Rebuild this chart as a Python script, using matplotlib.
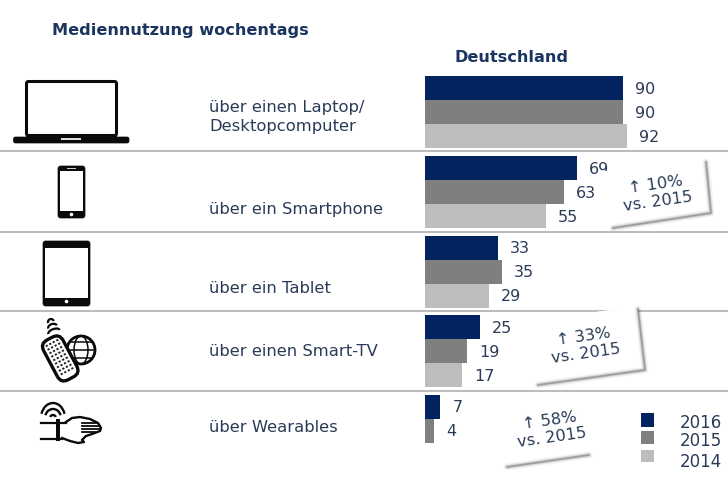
#!/usr/bin/env python3
import numpy as np
import matplotlib
matplotlib.use('Agg')
import matplotlib.pyplot as plt
from matplotlib.patches import Rectangle, FancyBboxPatch, Circle, Ellipse, Arc, Polygon
from matplotlib.transforms import Affine2D

# Data
categories = ['über einen Laptop/\nDesktopcomputer', 'über ein Smartphone', 'über ein Tablet',
              'über einen Smart-TV', 'über Wearables']
years = ['2016', '2015', '2014']
values_2016 = [90, 69, 33, 25, 7]
values_2015 = [90, 63, 35, 19, 4]
values_2014 = [92, 55, 29, 17, None]
note_labels = ['↑ 10%\nvs. 2015', '↑ 33%\nvs. 2015', '↑ 58%\nvs. 2015']

# Colors
NAVY = '#032360'
MID = '#7f7f7f'
LIGHT = '#bdbdbd'
TEXT = '#2a3b58'
TITLE = '#1c3560'
RULE = '#bcbcbc'
BLACK = '#0a0a0a'

W, H = 728, 486
PX = 2.2  # bar pixels per unit
fig = plt.figure(figsize=(W / 100, H / 100), dpi=100, facecolor='white')

# backdrop axes in pixel coordinates: rules, icons, text
ax = fig.add_axes([0, 0, 1, 1], zorder=1)
ax.set_xlim(0, W)
ax.set_ylim(H, 0)
ax.axis('off')

# bars axes, x in percent
bx = fig.add_axes([425 / W, 0, (W - 425) / W, 1], zorder=2)
bx.set_xlim(0, (W - 425) / PX)
bx.set_ylim(H, 0)
bx.axis('off')
bx.patch.set_alpha(0)

# overlay for the notes, they sit over the bars' labels
nx = fig.add_axes([0, 0, 1, 1], zorder=3)
nx.set_xlim(0, W)
nx.set_ylim(H, 0)
nx.axis('off')
nx.patch.set_alpha(0)

row_centers = [112, 192, 271.5, 351, 430.5]
for y in [151.5, 231.5, 311, 390.5]:
    ax.plot([0, W], [y, y], color=RULE, lw=1.5, solid_capstyle='butt')

series = [(values_2016, NAVY, -24), (values_2015, MID, 0), (values_2014, LIGHT, 24)]
for vals, color, offset in series:
    for center, v in zip(row_centers, vals):
        if v is None:
            continue
        bx.barh(center + offset, v, height=24, color=color, linewidth=0)
        bx.text(v + 5.5, center + offset + 1, str(v), color=TEXT, fontsize=11.5,
                va='center', ha='left')

# titles and row labels
ax.text(52, 31, 'Mediennutzung wochentags', color=TITLE, fontsize=11.6, weight='bold', va='center')
ax.text(512, 57, 'Deutschland', color=TITLE, fontsize=11.6, weight='bold', va='center', ha='center')
label_y = [117, 209, 288, 351, 427]
for y, label in zip(label_y, categories):
    ax.text(209, y, label, color=TEXT, fontsize=11.8, va='center', ha='left', linespacing=1.35)

# legend
for y0, h, color, year, ty in zip([413, 431, 450], [14, 13, 12], [NAVY, MID, LIGHT], years, [423, 441, 462]):
    ax.add_patch(Rectangle((641, y0), 13, h, color=color, lw=0))
    ax.text(680, ty, year, color=TEXT, fontsize=12, va='center')


# laptop
ax.add_patch(FancyBboxPatch((26.5, 81.5), 90, 54, boxstyle='round,pad=0,rounding_size=2',
                            fc='white', ec=BLACK, lw=2.2))
ax.add_patch(FancyBboxPatch((13.5, 137), 115.5, 6, boxstyle='round,pad=0,rounding_size=2',
                            fc=BLACK, ec=BLACK, lw=0.5))
ax.add_patch(Rectangle((26, 134), 91, 4, color=BLACK, lw=0))
ax.add_patch(Rectangle((61, 138), 20, 2, color='#dddddd', lw=0))

# phone
ax.add_patch(FancyBboxPatch((58, 166), 27, 52, boxstyle='round,pad=0,rounding_size=2.5',
                            fc=BLACK, ec=BLACK, lw=0.5))
ax.add_patch(Rectangle((60, 171), 23, 40, color='white', lw=0))
ax.add_patch(Circle((71.5, 214.5), 1.8, color='white', lw=0))
ax.add_patch(Rectangle((67, 168), 9, 1, color='#cccccc', lw=0))

# tablet
ax.add_patch(FancyBboxPatch((43, 241), 47, 65, boxstyle='round,pad=0,rounding_size=2.5',
                            fc=BLACK, ec=BLACK, lw=0.5))
ax.add_patch(Rectangle((45, 248), 43, 50, color='white', lw=0))
ax.add_patch(Circle((66.5, 301.5), 1.8, color='white', lw=0))

# remote with globe
ax.add_patch(Circle((81, 350), 14, fc='white', ec=BLACK, lw=2))
for w in [28, 14]:
    ax.add_patch(Ellipse((81, 350), w, 28, fc='none', ec=BLACK, lw=1.1))
for dy in [-8, 0, 8]:
    half = np.sqrt(14 ** 2 - dy ** 2)
    ax.plot([81 - half, 81 + half], [350 + dy, 350 + dy], color=BLACK, lw=1.1)
rot = Affine2D().rotate_deg_around(60, 358, -28) + ax.transData
ax.add_patch(FancyBboxPatch((49, 336), 22, 45, boxstyle='round,pad=0,rounding_size=8',
                            fc='white', ec=BLACK, lw=2.4, transform=rot, zorder=3))
key_x = [54, 58, 62, 66]
key_y = [341, 345, 349, 353, 357, 361, 365, 369, 373]
for kx in key_x:
    for ky in key_y:
        ax.add_patch(Rectangle((kx - 1.1, ky - 1), 2.2, 1.9, color='#222222', lw=0, transform=rot, zorder=4))
for d, w in zip([0, 5, 10], [12, 9, 6]):
    ax.add_patch(Arc((54 - d * 0.3, 332 - d), w, 6, angle=-20, theta1=180, theta2=360,
                     color=BLACK, lw=1.6))

# wearable: hand with wrist band and signal arcs
for w, h in [(24, 30), (16, 18), (6, 6)]:
    ax.add_patch(Arc((53, 418), w, h, theta1=200, theta2=340, color=BLACK, lw=1.7))
ax.plot([41, 66], [422.5, 422.5], color=BLACK, lw=1.6)
ax.plot([41, 62], [438.5, 438.5], color=BLACK, lw=1.6)
ax.add_patch(Rectangle((56, 419), 3.5, 22, color=BLACK, lw=0))
hand_x = [66, 72, 80, 90, 98, 101, 100, 92, 86, 82, 84, 78, 70, 62]
hand_y = [422, 418, 417, 419, 423, 428, 431, 434, 436, 440, 442, 443, 441, 438]
ax.plot(hand_x, hand_y, color=BLACK, lw=1.7)
for y, x1 in zip([423, 426, 429, 432], [96, 100, 100, 95]):
    ax.plot([82, x1], [y, y], color=BLACK, lw=1.3)


# tilted paper notes, white sheet with soft shadow below
notes = [
    ([(599, 172), (705, 160), (710, 213), (613, 228)], (657, 193), note_labels[0], True),
    ([(530, 320), (637, 307), (644, 370), (538, 385)], (585, 345), note_labels[1], True),
    ([(495, 407), (590, 393), (589, 455), (507, 467)], (551, 429), note_labels[2], False),
]
for corners, center, label, right_shadow in notes:
    nx.add_patch(Polygon(corners, closed=True, fc='white', ec='none'))
    tr, br, bl = corners[1], corners[2], corners[3]
    if right_shadow:
        xs = [tr[0] + 1, br[0] + 1, bl[0]]
        ys = [tr[1] + 2, br[1], bl[1]]
    else:
        xs = [br[0], bl[0]]
        ys = [br[1], bl[1]]
    for lw, alpha in [(5, 0.05), (3.5, 0.08), (2.2, 0.14), (1.2, 0.3)]:
        nx.plot(xs, ys, color='#333333', lw=lw, alpha=alpha, solid_capstyle='round', solid_joinstyle='round')
    nx.add_patch(Polygon(corners, closed=True, fc='white', ec='none'))
    nx.text(center[0], center[1], label, color=TEXT, fontsize=11.7, rotation=8, ha='center',
            va='center', rotation_mode='anchor', linespacing=1.2)

fig.savefig('out.png', dpi=100)
plt.close(fig)
